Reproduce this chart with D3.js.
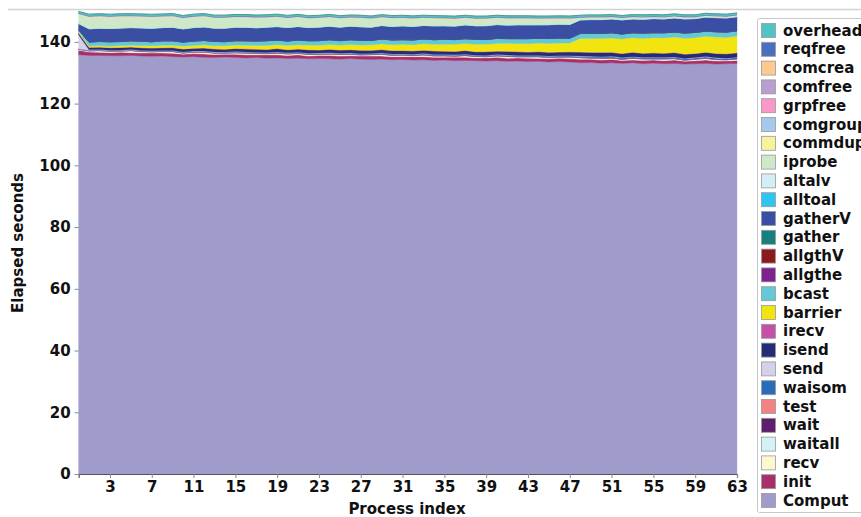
<!DOCTYPE html>
<html>
<head>
<meta charset="utf-8">
<script src="https://cdn.jsdelivr.net/npm/d3@7"></script>
<style>
  html, body { margin: 0; padding: 0; background: #fff; }
  svg { display: block; }
  text { font-family: "DejaVu Sans", sans-serif; font-weight: bold; fill: #111; }
</style>
</head>
<body>
<svg id="chart" width="861" height="517"></svg>
<script>
// Elapsed time per MPI routine for each of the 64 processes (seconds)
const comput = [
  135.8,135.6,135.6,135.5,135.5,135.6,135.4,135.3,
  135.4,135.2,135.1,135.2,135.0,134.9,135.1,134.9,
  134.8,134.9,134.7,134.8,134.6,134.7,134.5,134.6,
  134.5,134.4,134.6,134.4,134.3,134.4,134.2,134.3,
  134.1,134.2,134.0,134.1,133.9,134.0,133.9,133.8,
  133.9,133.7,133.8,133.6,133.7,133.5,133.6,133.5,
  133.2,133.3,133.1,133.2,133.0,133.2,132.9,133.1,
  132.9,133.0,132.8,132.9,133.0,132.8,132.9,133.0];
const init = [
  1.5,1.1,1.0,1.0,1.1,0.9,1.0,1.1, 1.0,1.1,0.9,1.0,1.1,1.0,0.9,1.1,
  1.0,0.9,1.1,1.0,1.0,1.1,0.9,1.0, 1.1,1.0,0.9,1.0,1.1,1.0,1.0,0.9,
  1.1,1.0,1.0,0.9,1.1,1.0,0.9,1.0, 1.1,1.0,1.0,1.1,0.9,1.0,1.1,1.0,
  1.2,1.1,1.0,1.1,1.0,0.9,1.1,1.0, 1.0,1.1,0.9,1.0,1.1,1.0,0.9,1.0];
const recv = [
  0.2,0.3,0.5,0.4,0.3,0.6,0.4,0.3, 0.4,0.5,0.3,0.4,0.5,0.4,0.3,0.4,
  0.5,0.4,0.3,0.5,0.4,0.4,0.5,0.3, 0.4,0.5,0.4,0.3,0.4,0.5,0.4,0.4,
  0.3,0.5,0.4,0.4,0.3,0.5,0.4,0.3, 0.4,0.5,0.3,0.4,0.5,0.4,0.3,0.5,
  0.4,0.3,0.5,0.4,0.3,0.5,0.4,0.3, 0.5,0.4,0.3,0.4,0.5,0.4,0.3,0.4];
const waitall = [
  0.02,0.02,0.03,0.02,0.02,0.03,0.02,0.02, 0.03,0.02,0.02,0.03,0.02,0.02,0.03,0.02,
  0.02,0.03,0.02,0.02,0.03,0.02,0.02,0.03, 0.02,0.02,0.03,0.02,0.02,0.03,0.02,0.02,
  0.03,0.02,0.02,0.03,0.02,0.02,0.03,0.02, 0.02,0.03,0.02,0.02,0.03,0.02,0.02,0.03,
  0.02,0.02,0.03,0.02,0.02,0.03,0.02,0.02, 0.03,0.02,0.02,0.03,0.02,0.02,0.03,0.02];
const wait = [
  0.10,0.08,0.08,0.09,0.08,0.08,0.09,0.08, 0.08,0.09,0.08,0.08,0.09,0.08,0.08,0.09,
  0.08,0.08,0.09,0.08,0.08,0.09,0.08,0.08, 0.09,0.08,0.08,0.09,0.08,0.08,0.09,0.08,
  0.08,0.09,0.08,0.08,0.09,0.08,0.08,0.09, 0.08,0.08,0.09,0.08,0.08,0.09,0.08,0.08,
  0.10,0.09,0.09,0.10,0.09,0.09,0.10,0.09, 0.09,0.10,0.09,0.09,0.10,0.09,0.09,0.10];
const test = [
  0.01,0.01,0.01,0.01,0.01,0.01,0.01,0.01, 0.01,0.01,0.01,0.01,0.01,0.01,0.01,0.01,
  0.01,0.01,0.01,0.01,0.01,0.01,0.01,0.01, 0.01,0.01,0.01,0.01,0.01,0.01,0.01,0.01,
  0.01,0.01,0.01,0.01,0.01,0.01,0.01,0.01, 0.01,0.01,0.01,0.01,0.01,0.01,0.01,0.01,
  0.01,0.01,0.01,0.01,0.01,0.01,0.01,0.01, 0.01,0.01,0.01,0.01,0.01,0.01,0.01,0.01];
const waisom = [
  0.10,0.15,0.15,0.16,0.15,0.16,0.17,0.16, 0.17,0.18,0.17,0.18,0.19,0.18,0.19,0.20,
  0.19,0.20,0.21,0.20,0.21,0.22,0.21,0.22, 0.23,0.22,0.23,0.24,0.23,0.24,0.25,0.24,
  0.25,0.26,0.25,0.26,0.27,0.26,0.27,0.28, 0.27,0.28,0.29,0.28,0.29,0.30,0.29,0.30,
  0.35,0.36,0.35,0.36,0.37,0.36,0.37,0.38, 0.37,0.38,0.39,0.38,0.39,0.40,0.39,0.40];
const send = [
  4.6,0.15,0.12,0.12,0.11,0.12,0.11,0.12, 0.11,0.12,0.11,0.12,0.11,0.12,0.11,0.12,
  0.11,0.12,0.11,0.12,0.11,0.12,0.11,0.12, 0.11,0.12,0.11,0.12,0.11,0.12,0.11,0.12,
  0.11,0.12,0.11,0.12,0.11,0.12,0.11,0.12, 0.11,0.12,0.11,0.12,0.11,0.12,0.11,0.12,
  0.11,0.12,0.11,0.12,0.11,0.12,0.11,0.12, 0.11,0.12,0.11,0.12,0.11,0.12,0.11,0.12];
const isend = [
  0.6,0.8,0.8,0.8,0.9,0.8,0.9,0.9, 0.9,0.9,1.0,0.9,1.0,1.0,0.9,1.0,
  1.0,1.0,1.0,1.1,1.0,1.0,1.1,1.0, 1.1,1.0,1.1,1.1,1.0,1.1,1.1,1.1,
  1.1,1.1,1.2,1.1,1.1,1.2,1.1,1.2, 1.1,1.2,1.2,1.1,1.2,1.2,1.2,1.2,
  1.3,1.3,1.4,1.3,1.3,1.4,1.3,1.4, 1.3,1.4,1.4,1.3,1.4,1.4,1.4,1.4];
const irecv = [
  0.02,0.02,0.02,0.02,0.02,0.02,0.02,0.02, 0.02,0.02,0.02,0.02,0.02,0.02,0.02,0.02,
  0.02,0.02,0.02,0.02,0.02,0.02,0.02,0.02, 0.02,0.02,0.02,0.02,0.02,0.02,0.02,0.02,
  0.02,0.02,0.02,0.02,0.02,0.02,0.02,0.02, 0.02,0.02,0.02,0.02,0.02,0.02,0.02,0.02,
  0.02,0.02,0.02,0.02,0.02,0.02,0.02,0.02, 0.02,0.02,0.02,0.02,0.02,0.02,0.02,0.02];
const barrier = [
  0.3,0.4,0.5,0.5,0.6,0.6,0.7,0.7, 0.8,0.8,0.9,0.9,1.0,1.0,1.1,1.1,
  1.2,1.2,1.3,1.3,1.4,1.4,1.5,1.5, 1.6,1.6,1.7,1.7,1.8,1.9,1.9,2.0,
  2.0,2.1,2.1,2.2,2.3,2.3,2.4,2.4, 2.5,2.6,2.6,2.7,2.8,2.8,2.9,2.9,
  4.4,4.5,4.5,4.6,4.7,4.7,4.8,4.9, 4.9,5.0,5.1,5.1,5.2,5.3,5.3,5.4];
const bcast = [
  0.6,1.3,1.3,1.4,1.3,1.4,1.4,1.3, 1.4,1.4,1.3,1.4,1.4,1.4,1.3,1.4,
  1.4,1.4,1.5,1.4,1.4,1.5,1.4,1.5, 1.5,1.4,1.5,1.5,1.4,1.5,1.5,1.5,
  1.5,1.5,1.5,1.6,1.5,1.5,1.6,1.5, 1.6,1.5,1.6,1.6,1.5,1.6,1.6,1.5,
  1.6,1.6,1.6,1.7,1.6,1.6,1.7,1.6, 1.7,1.6,1.7,1.7,1.6,1.7,1.7,1.7];
const allgthe = [
  0.01,0.01,0.01,0.01,0.01,0.01,0.01,0.01, 0.01,0.01,0.01,0.01,0.01,0.01,0.01,0.01,
  0.01,0.01,0.01,0.01,0.01,0.01,0.01,0.01, 0.01,0.01,0.01,0.01,0.01,0.01,0.01,0.01,
  0.01,0.01,0.01,0.01,0.01,0.01,0.01,0.01, 0.01,0.01,0.01,0.01,0.01,0.01,0.01,0.01,
  0.01,0.01,0.01,0.01,0.01,0.01,0.01,0.01, 0.01,0.01,0.01,0.01,0.01,0.01,0.01,0.01];
const allgthV = [
  0.01,0.01,0.01,0.01,0.01,0.01,0.01,0.01, 0.01,0.01,0.01,0.01,0.01,0.01,0.01,0.01,
  0.01,0.01,0.01,0.01,0.01,0.01,0.01,0.01, 0.01,0.01,0.01,0.01,0.01,0.01,0.01,0.01,
  0.01,0.01,0.01,0.01,0.01,0.01,0.01,0.01, 0.01,0.01,0.01,0.01,0.01,0.01,0.01,0.01,
  0.01,0.01,0.01,0.01,0.01,0.01,0.01,0.01, 0.01,0.01,0.01,0.01,0.01,0.01,0.01,0.01];
const gather = [
  0.03,0.03,0.03,0.03,0.03,0.03,0.03,0.03, 0.03,0.03,0.03,0.03,0.03,0.03,0.03,0.03,
  0.03,0.03,0.03,0.03,0.03,0.03,0.03,0.03, 0.03,0.03,0.03,0.03,0.03,0.03,0.03,0.03,
  0.03,0.03,0.03,0.03,0.03,0.03,0.03,0.03, 0.03,0.03,0.03,0.03,0.03,0.03,0.03,0.03,
  0.03,0.03,0.03,0.03,0.03,0.03,0.03,0.03, 0.03,0.03,0.03,0.03,0.03,0.03,0.03,0.03];
const gatherV = [
  2.0,4.2,4.2,4.2,4.3,4.2,4.2,4.3, 4.2,4.3,4.2,4.3,4.3,4.2,4.3,4.3,
  4.3,4.2,4.3,4.3,4.3,4.3,4.2,4.3, 4.3,4.3,4.3,4.3,4.2,4.3,4.3,4.4,
  4.3,4.3,4.4,4.3,4.3,4.4,4.3,4.4, 4.4,4.3,4.4,4.4,4.3,4.4,4.4,4.4,
  4.3,4.4,4.4,4.4,4.5,4.4,4.4,4.5, 4.4,4.5,4.5,4.4,4.5,4.5,4.5,4.5];
const alltoal = [
  0.05,0.05,0.05,0.05,0.05,0.05,0.05,0.05, 0.05,0.05,0.05,0.05,0.05,0.05,0.05,0.05,
  0.05,0.05,0.05,0.05,0.05,0.05,0.05,0.05, 0.05,0.05,0.05,0.05,0.05,0.05,0.05,0.05,
  0.05,0.05,0.05,0.05,0.05,0.05,0.05,0.05, 0.05,0.05,0.05,0.05,0.05,0.05,0.05,0.05,
  0.05,0.05,0.05,0.05,0.05,0.05,0.05,0.05, 0.05,0.05,0.05,0.05,0.05,0.05,0.05,0.05];
const altalv = [
  0.02,0.02,0.02,0.02,0.02,0.02,0.02,0.02, 0.02,0.02,0.02,0.02,0.02,0.02,0.02,0.02,
  0.02,0.02,0.02,0.02,0.02,0.02,0.02,0.02, 0.02,0.02,0.02,0.02,0.02,0.02,0.02,0.02,
  0.02,0.02,0.02,0.02,0.02,0.02,0.02,0.02, 0.02,0.02,0.02,0.02,0.02,0.02,0.02,0.02,
  0.02,0.02,0.02,0.02,0.02,0.02,0.02,0.02, 0.02,0.02,0.02,0.02,0.02,0.02,0.02,0.02];
const iprobe = [
  3.2,4.0,4.0,3.9,3.9,3.8,3.8,3.8, 3.7,3.7,3.6,3.6,3.6,3.5,3.5,3.4,
  3.4,3.4,3.3,3.3,3.2,3.2,3.1,3.1, 3.1,3.0,2.9,3.0,2.9,2.8,2.8,2.7,
  2.7,2.6,2.6,2.5,2.5,2.4,2.4,2.4, 2.3,2.3,2.2,2.2,2.1,2.1,2.0,2.0,
  0.8,0.8,0.8,0.7,0.7,0.7,0.7,0.6, 0.6,0.6,0.6,0.5,0.5,0.5,0.5,0.5];
const commdup = [
  0.01,0.01,0.01,0.01,0.01,0.01,0.01,0.01, 0.01,0.01,0.01,0.01,0.01,0.01,0.01,0.01,
  0.01,0.01,0.01,0.01,0.01,0.01,0.01,0.01, 0.01,0.01,0.01,0.01,0.01,0.01,0.01,0.01,
  0.01,0.01,0.01,0.01,0.01,0.01,0.01,0.01, 0.01,0.01,0.01,0.01,0.01,0.01,0.01,0.01,
  0.01,0.01,0.01,0.01,0.01,0.01,0.01,0.01, 0.01,0.01,0.01,0.01,0.01,0.01,0.01,0.01];
const comgroup = commdup.slice();
const grpfree = commdup.slice();
const comfree = commdup.slice();
const comcrea = commdup.slice();
const reqfree = [
  0.15,0.15,0.15,0.15,0.15,0.15,0.15,0.15, 0.15,0.15,0.15,0.15,0.15,0.15,0.15,0.15,
  0.15,0.15,0.15,0.15,0.15,0.15,0.15,0.15, 0.15,0.15,0.15,0.15,0.15,0.15,0.15,0.15,
  0.15,0.15,0.15,0.15,0.15,0.15,0.15,0.15, 0.15,0.15,0.15,0.15,0.15,0.15,0.15,0.15,
  0.15,0.15,0.15,0.15,0.15,0.15,0.15,0.15, 0.15,0.15,0.15,0.15,0.15,0.15,0.15,0.15];
const overhead = [
  0.5,0.5,0.5,0.5,0.5,0.5,0.5,0.5, 0.5,0.5,0.5,0.5,0.5,0.5,0.5,0.5,
  0.5,0.5,0.5,0.5,0.5,0.5,0.5,0.5, 0.5,0.5,0.5,0.5,0.5,0.5,0.5,0.5,
  0.5,0.5,0.5,0.5,0.5,0.5,0.5,0.5, 0.5,0.5,0.5,0.5,0.5,0.5,0.5,0.5,
  0.5,0.5,0.5,0.5,0.5,0.5,0.5,0.5, 0.5,0.5,0.5,0.5,0.5,0.5,0.5,0.5];

// Stacking order, bottom to top, with fill colours
const routines = [
  ["Comput", comput, "#9f9ccc"],
  ["init", init, "#a8306a"],
  ["recv", recv, "#fdf8d0"],
  ["waitall", waitall, "#d6f1f5"],
  ["wait", wait, "#5e1f6c"],
  ["test", test, "#f48282"],
  ["waisom", waisom, "#2a6cb8"],
  ["send", send, "#d4d0ea"],
  ["isend", isend, "#262b78"],
  ["irecv", irecv, "#c451a8"],
  ["barrier", barrier, "#f2e50f"],
  ["bcast", bcast, "#64c8d6"],
  ["allgthe", allgthe, "#7d2390"],
  ["allgthV", allgthV, "#8b1a1e"],
  ["gather", gather, "#17807e"],
  ["gatherV", gatherV, "#3a4fa3"],
  ["alltoal", alltoal, "#2ec5f0"],
  ["altalv", altalv, "#d3eef5"],
  ["iprobe", iprobe, "#cfe8c8"],
  ["commdup", commdup, "#f7f29e"],
  ["comgroup", comgroup, "#a6c8ec"],
  ["grpfree", grpfree, "#f79ac7"],
  ["comfree", comfree, "#b99fd0"],
  ["comcrea", comcrea, "#fcc990"],
  ["reqfree", reqfree, "#4a6fbf"],
  ["overhead", overhead, "#52c3c4"]
];

const xTicks = [3, 7, 11, 15, 19, 23, 27, 31, 35, 39, 43, 47, 51, 55, 59, 63];
const yTicks = [0, 20, 40, 60, 80, 100, 120, 140];

const svg = d3.select("#chart");
const W = 861, H = 517;

// frame rule across the top of the figure
svg.append("line").attr("x1", 8).attr("x2", W).attr("y1", 9.5).attr("y2", 9.5)
  .attr("stroke", "#d2d2d2").attr("stroke-width", 1.5);

const procs = d3.range(comput.length);
const rows = procs.map(i => {
  const r = { p: i };
  routines.forEach(([k, v]) => { r[k] = v[i]; });
  return r;
});
const keys = routines.map(d => d[0]);
const color = d3.scaleOrdinal(keys, routines.map(d => d[2]));

const x = d3.scaleLinear().domain([0, 63]).range([78.6, 737]);
const y = d3.scaleLinear().domain([0, 150]).range([474, 11]);

const series = d3.stack().keys(keys)(rows);
const area = d3.area()
  .x(d => x(d.data.p))
  .y0(d => y(d[0]))
  .y1(d => y(d[1]));

svg.append("g").selectAll("path").data(series).join("path")
  .attr("d", area)
  .attr("fill", d => color(d.key))
  .attr("stroke", d => color(d.key))
  .attr("stroke-width", 0.4);

// thin darker edge along the top of the stack
const topLine = d3.line().x(d => x(d.data.p)).y(d => y(d[1]));
svg.append("path").datum(series[series.length - 1]).attr("d", topLine)
  .attr("fill", "none").attr("stroke", "#4f9a8c").attr("stroke-width", 1);

// axes
const xAxis = svg.append("g").attr("transform", "translate(0,474)")
  .call(d3.axisBottom(x).tickValues(xTicks).tickSize(4).tickPadding(3));
xAxis.select(".domain").attr("stroke", "#555").attr("stroke-width", 1.2);
xAxis.selectAll(".tick line").attr("stroke", "#888");
xAxis.selectAll("text").style("font-size", "15px").style("font-weight", "bold")
  .style("font-family", "DejaVu Sans").attr("fill", "#111");

const yAxis = svg.append("g").attr("transform", "translate(78.6,0)")
  .call(d3.axisLeft(y).tickValues(yTicks).tickSize(4).tickPadding(4));
yAxis.select(".domain").remove();
yAxis.selectAll(".tick line").attr("stroke", "#888");
yAxis.selectAll("text").style("font-size", "15px").style("font-weight", "bold")
  .style("font-family", "DejaVu Sans").attr("fill", "#111");

svg.append("text").attr("x", 407).attr("y", 514).attr("text-anchor", "middle")
  .style("font-size", "15px").text("Process index");
svg.append("text").attr("transform", "translate(23,243) rotate(-90)")
  .attr("text-anchor", "middle").style("font-size", "15px").text("Elapsed seconds");

// legend, listed top of stack first
const lg = svg.append("g");
lg.append("rect").attr("x", 757.5).attr("y", 18.5).attr("width", 130).attr("height", 494)
  .attr("fill", "#fff").attr("stroke", "#c8c8c8").attr("rx", 2);
const legendKeys = keys.slice().reverse();
const item = lg.selectAll("g.item").data(legendKeys).join("g").attr("class", "item")
  .attr("transform", (d, i) => `translate(761,${23 + i * 18.8})`);
item.append("rect").attr("x", 0.5).attr("y", 0.5).attr("width", 14).attr("height", 14)
  .attr("fill", d => color(d)).attr("stroke", "#999").attr("stroke-width", 0.8);
item.append("text").attr("x", 22).attr("y", 12.5).style("font-size", "15px").text(d => d);
</script>
</body>
</html>
